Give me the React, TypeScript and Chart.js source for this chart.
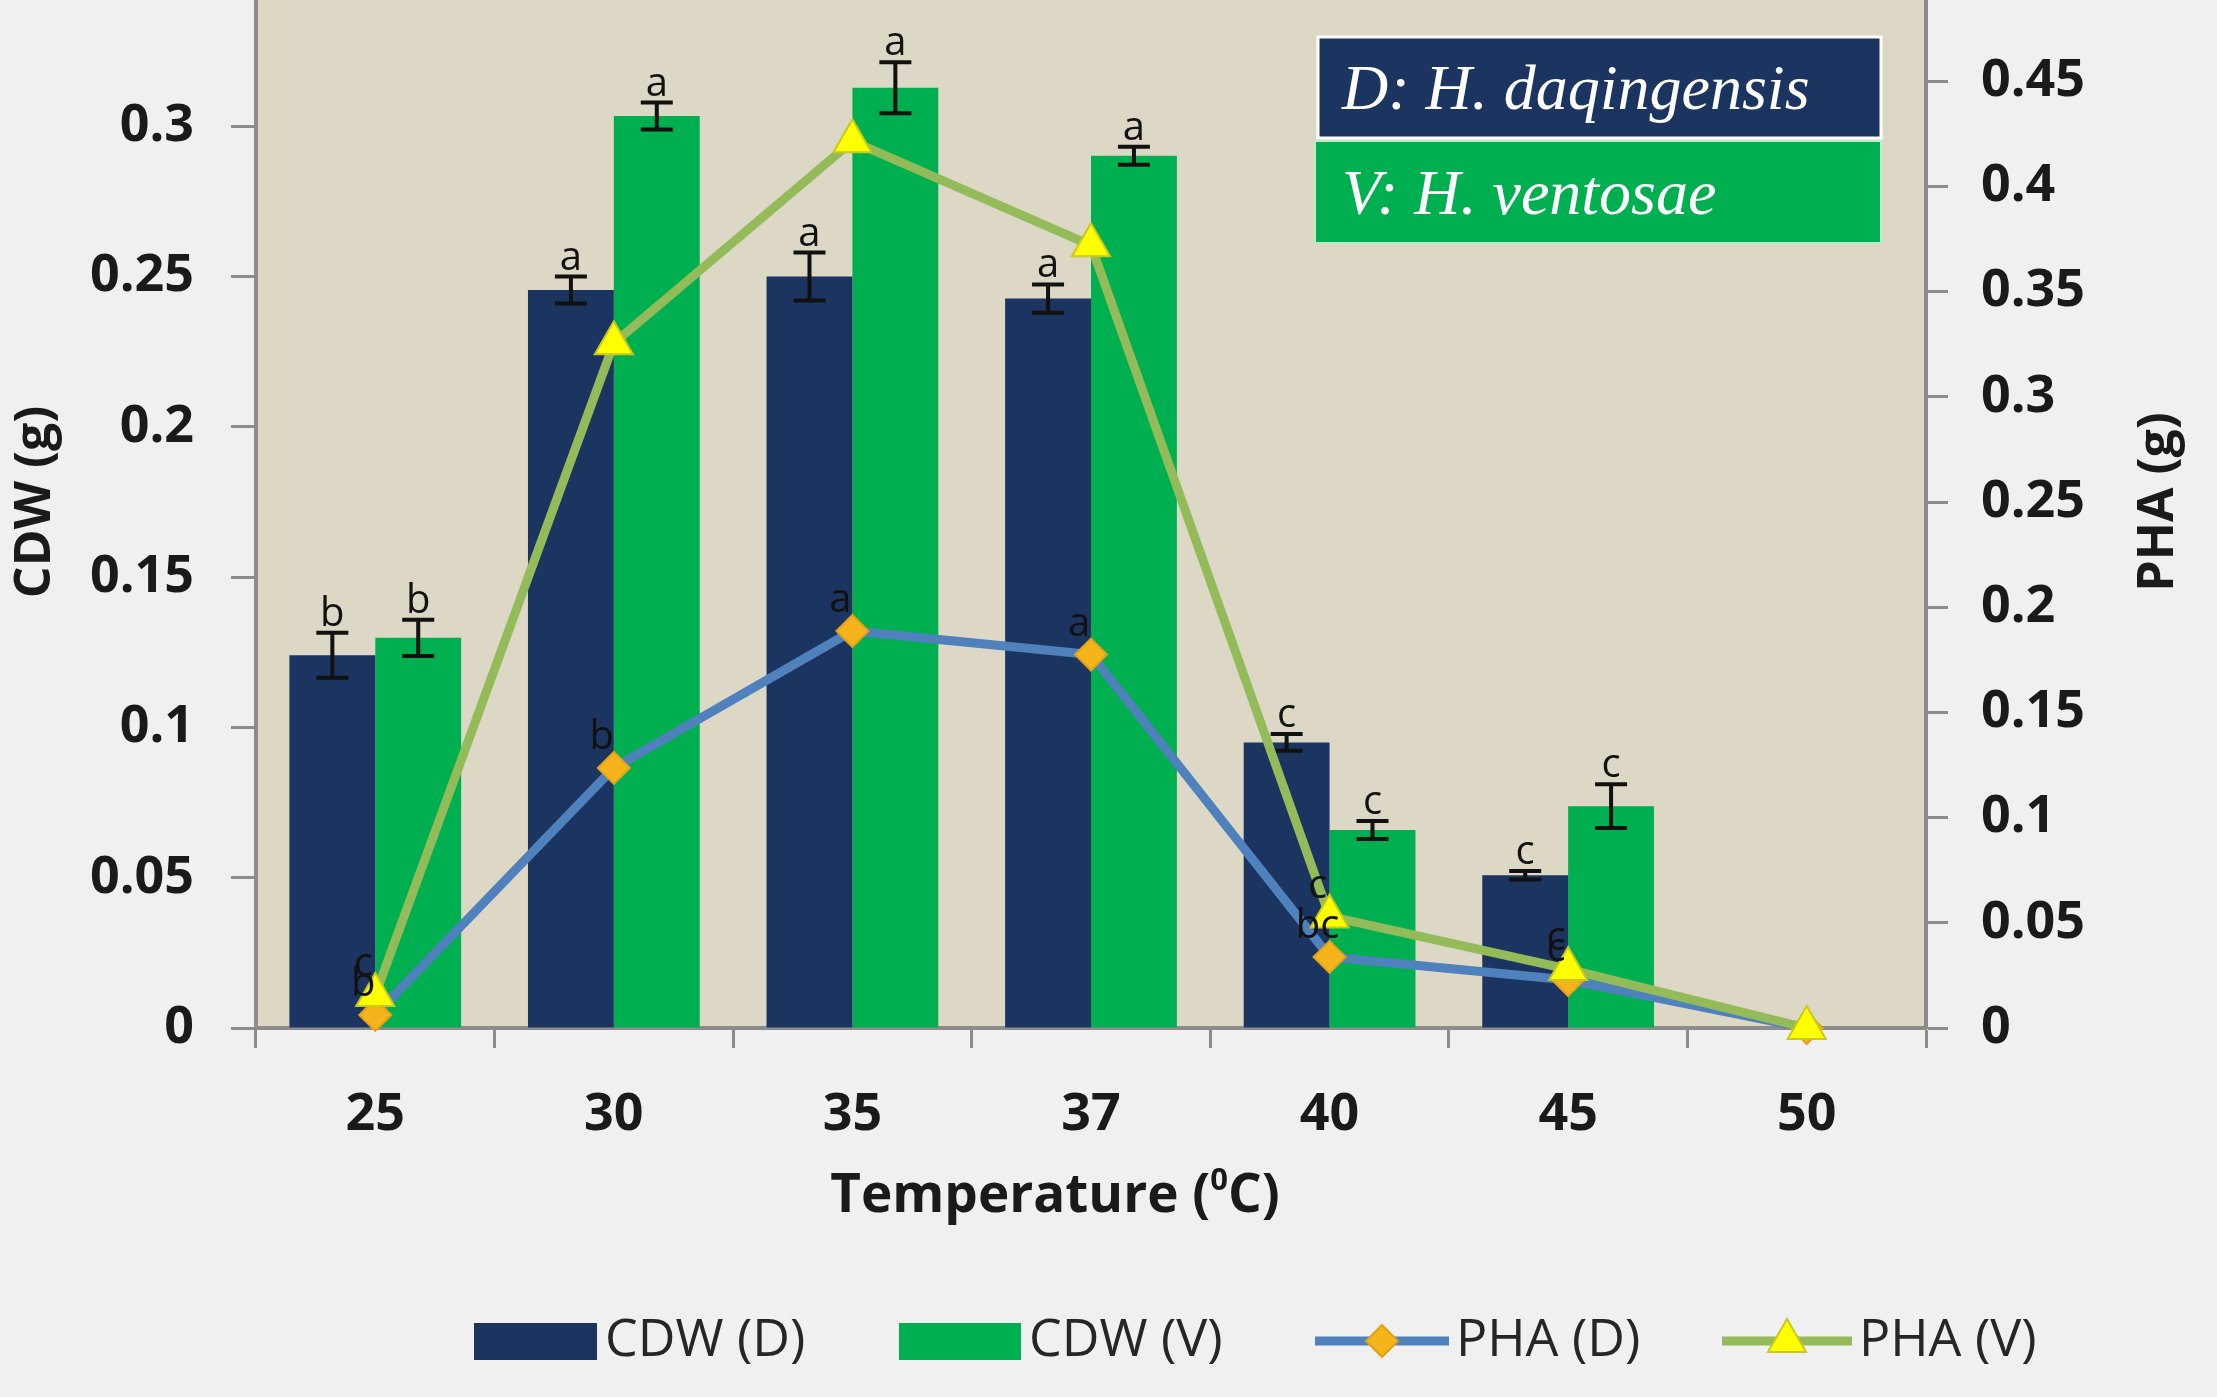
import React, { useEffect, useRef } from "react";
import { Chart, registerables } from "chart.js";

Chart.register(...registerables);

// ---------- data ----------
const temperatures = ["25", "30", "35", "37", "40", "45", "50"];
const cdwD = [0.124, 0.2455, 0.25, 0.2427, 0.095, 0.0508, 0];
const cdwV = [0.1298, 0.3034, 0.3128, 0.2902, 0.0659, 0.0738, 0];
const cdwDErr = [0.0075, 0.0045, 0.008, 0.0047, 0.0028, 0.0014, 0];
const cdwVErr = [0.006, 0.0045, 0.0085, 0.003, 0.003, 0.0073, 0];
const phaD = [0.0062, 0.1236, 0.1887, 0.1775, 0.0338, 0.0228, 0];
const phaV = [0.0157, 0.3255, 0.4215, 0.372, 0.053, 0.028, 0];
const cdwDLetters = ["b", "a", "a", "a", "c", "c", ""];
const cdwVLetters = ["b", "a", "a", "a", "c", "c", ""];
const phaDLetters = ["b", "b", "a", "a", "bc", "c", ""];
const phaVLetters = ["c", "", "", "", "c", "c", ""];
const cdwAxis = { min: 0, max: 0.35, step: 0.05 };
const phaAxis = { min: 0, max: 0.5, step: 0.05 };
const seriesNames = ["CDW (D)", "CDW (V)", "PHA (D)", "PHA (V)"];
const strainNames = ["D: H. daqingensis", "V: H. ventosae"];

// ---------- style ----------
const W = 2217;
const H = 1397;
const SHIFT = 124; // canvas extends above the page (top of plot is cropped)
const NAVY = "#1c3560";
const GREEN = "#00b050";
const BLUE_LINE = "#4f81bd";
const OLIVE_LINE = "#93bb5a";
const DIAMOND = "#f6b41c";
const TRIANGLE = "#ffff00";
const AXIS = "#8c8c8c";
const TEXT = "#1a1a1a";
const FONT = '"Open Sans", "Noto Sans", sans-serif';
const LINE_W = 9;

const fmt = (v: any) => String(Math.round(Number(v) * 100) / 100);

function diamondPath(ctx: CanvasRenderingContext2D, x: number, y: number, r: number) {
  ctx.beginPath();
  ctx.moveTo(x, y - r);
  ctx.lineTo(x + r, y);
  ctx.lineTo(x, y + r);
  ctx.lineTo(x - r, y);
  ctx.closePath();
}
function trianglePath(ctx: CanvasRenderingContext2D, x: number, y: number, r: number) {
  ctx.beginPath();
  ctx.moveTo(x, y - r);
  ctx.lineTo(x + r * 0.866, y + r * 0.5);
  ctx.lineTo(x - r * 0.866, y + r * 0.5);
  ctx.closePath();
}

const backgroundPlugin = {
  id: "bgPlot",
  beforeDraw(chart: any) {
    const { ctx, chartArea: a } = chart;
    ctx.save();
    ctx.fillStyle = "#f0f0f0";
    ctx.fillRect(0, 0, chart.width, chart.height);
    ctx.fillStyle = "#ddd8c6";
    ctx.fillRect(a.left, a.top, a.right - a.left, a.bottom - a.top);
    ctx.restore();
  },
};

const errorBarPlugin = {
  id: "errorBars",
  afterDatasetDraw(chart: any, args: any) {
    const errs = args.index === 0 ? cdwDErr : args.index === 1 ? cdwVErr : null;
    if (!errs) return;
    const vals = args.index === 0 ? cdwD : cdwV;
    const y = chart.scales.y;
    const ctx = chart.ctx;
    ctx.save();
    ctx.strokeStyle = "#111111";
    ctx.lineWidth = 4;
    args.meta.data.forEach((bar: any, i: number) => {
      if (!errs[i]) return;
      const top = y.getPixelForValue(vals[i] + errs[i]);
      const bot = y.getPixelForValue(vals[i] - errs[i]);
      const x = bar.x;
      ctx.beginPath();
      ctx.moveTo(x, top);
      ctx.lineTo(x, bot);
      ctx.moveTo(x - 16, top);
      ctx.lineTo(x + 16, top);
      ctx.moveTo(x - 16, bot);
      ctx.lineTo(x + 16, bot);
      ctx.stroke();
    });
    ctx.restore();
  },
};

const lettersPlugin = {
  id: "letters",
  afterDatasetsDraw(chart: any) {
    const ctx = chart.ctx;
    const y = chart.scales.y;
    ctx.save();
    ctx.fillStyle = "#111111";
    ctx.font = `40px ${FONT}`;
    ctx.textAlign = "center";
    ctx.textBaseline = "alphabetic";
    [
      { idx: 0, letters: cdwDLetters, vals: cdwD, errs: cdwDErr },
      { idx: 1, letters: cdwVLetters, vals: cdwV, errs: cdwVErr },
    ].forEach((s) => {
      const meta = chart.getDatasetMeta(s.idx);
      meta.data.forEach((bar: any, i: number) => {
        if (!s.letters[i]) return;
        const top = y.getPixelForValue(s.vals[i] + s.errs[i]);
        ctx.fillText(s.letters[i], bar.x, top - 7);
      });
    });
    ctx.textBaseline = "middle";
    [
      { idx: 2, letters: phaDLetters },
      { idx: 3, letters: phaVLetters },
    ].forEach((s) => {
      const meta = chart.getDatasetMeta(s.idx);
      meta.data.forEach((pt: any, i: number) => {
        if (!s.letters[i]) return;
        ctx.fillText(s.letters[i], pt.x - 12, pt.y - 30);
      });
    });
    ctx.restore();
  },
};

const decorPlugin = {
  id: "decor",
  afterDraw(chart: any) {
    const { ctx, chartArea: a } = chart;
    const cy = (a.top + a.bottom) / 2;
    ctx.save();

    // axis titles
    ctx.fillStyle = TEXT;
    ctx.font = `bold 50px ${FONT}`;
    ctx.textAlign = "center";
    ctx.textBaseline = "middle";
    ctx.save();
    ctx.translate(36, cy);
    ctx.rotate(-Math.PI / 2);
    ctx.fillText("CDW (g)", 0, 0);
    ctx.restore();
    ctx.save();
    ctx.translate(2159, cy);
    ctx.rotate(-Math.PI / 2);
    ctx.fillText("PHA (g)", 0, 0);
    ctx.restore();

    // x title with superscript
    const t1 = "Temperature (";
    const t2 = "0";
    const t3 = "C)";
    const mainFont = `bold 53px ${FONT}`;
    const supFont = `bold 31px ${FONT}`;
    ctx.font = mainFont;
    const w1 = ctx.measureText(t1).width;
    const w3 = ctx.measureText(t3).width;
    ctx.font = supFont;
    const w2 = ctx.measureText(t2).width;
    const total = w1 + w2 + w3;
    const xc = (a.left + a.right) / 2 - 36;
    const base = a.bottom + 184;
    let x = xc - total / 2;
    ctx.textAlign = "left";
    ctx.textBaseline = "alphabetic";
    ctx.font = mainFont;
    ctx.fillText(t1, x, base);
    x += w1;
    ctx.font = supFont;
    ctx.fillText(t2, x, base - 22);
    x += w2;
    ctx.font = mainFont;
    ctx.fillText(t3, x, base);

    // in-plot strain legend
    const bx = a.right - 608;
    const bw = 563;
    const by1 = a.top + 61;
    const bh = 101;
    ctx.fillStyle = NAVY;
    ctx.fillRect(bx, by1, bw, bh);
    ctx.strokeStyle = "#ffffff";
    ctx.lineWidth = 3;
    ctx.strokeRect(bx, by1, bw, bh);
    const by2 = by1 + bh + 3;
    ctx.fillStyle = GREEN;
    ctx.fillRect(bx - 3, by2, bw + 3, bh + 1);
    ctx.strokeStyle = "#b9efc8";
    ctx.lineWidth = 2;
    ctx.strokeRect(bx - 3, by2, bw + 3, bh + 1);
    ctx.fillStyle = "#ffffff";
    ctx.font = `italic 64px "Liberation Serif", "DejaVu Serif", serif`;
    ctx.textAlign = "left";
    ctx.textBaseline = "alphabetic";
    ctx.fillText(strainNames[0], bx + 24, by1 + 72);
    ctx.fillText(strainNames[1], bx + 24, by2 + 73);

    // bottom legend
    const ly = a.bottom + 313;
    ctx.font = `52px ${FONT}`;
    ctx.textBaseline = "middle";
    ctx.fillStyle = NAVY;
    ctx.fillRect(474, ly - 18, 123, 37);
    ctx.fillStyle = "#262626";
    ctx.fillText(seriesNames[0], 605, ly);
    ctx.fillStyle = GREEN;
    ctx.fillRect(899, ly - 18, 122, 37);
    ctx.fillStyle = "#262626";
    ctx.fillText(seriesNames[1], 1029, ly);

    ctx.strokeStyle = BLUE_LINE;
    ctx.lineWidth = LINE_W;
    ctx.beginPath();
    ctx.moveTo(1315, ly);
    ctx.lineTo(1449, ly);
    ctx.stroke();
    diamondPath(ctx, 1382, ly, 16);
    ctx.fillStyle = DIAMOND;
    ctx.fill();
    ctx.strokeStyle = "#e0a21a";
    ctx.lineWidth = 2;
    ctx.stroke();
    ctx.fillStyle = "#262626";
    ctx.fillText(seriesNames[2], 1456, ly);

    ctx.strokeStyle = OLIVE_LINE;
    ctx.lineWidth = LINE_W;
    ctx.beginPath();
    ctx.moveTo(1722, ly);
    ctx.lineTo(1852, ly);
    ctx.stroke();
    trianglePath(ctx, 1787, ly, 22);
    ctx.fillStyle = TRIANGLE;
    ctx.fill();
    ctx.strokeStyle = "#c8c820";
    ctx.lineWidth = 2;
    ctx.stroke();
    ctx.fillStyle = "#262626";
    ctx.fillText(seriesNames[3], 1859, ly);

    ctx.restore();
  },
};

export default function App() {
  const ref = useRef<HTMLCanvasElement | null>(null);

  useEffect(() => {
    if (!ref.current) return;
    const tickFont = { family: FONT, size: 52, weight: "bold" as const };
    const chart = new Chart(ref.current, {
      type: "bar",
      data: {
        labels: temperatures,
        datasets: [
          {
            type: "bar",
            label: seriesNames[0],
            data: cdwD,
            backgroundColor: NAVY,
            yAxisID: "y",
            order: 3,
            categoryPercentage: 0.72,
            barPercentage: 1.0,
          },
          {
            type: "bar",
            label: seriesNames[1],
            data: cdwV,
            backgroundColor: GREEN,
            yAxisID: "y",
            order: 4,
            categoryPercentage: 0.72,
            barPercentage: 1.0,
          },
          {
            type: "line",
            label: seriesNames[2],
            data: phaD,
            borderColor: BLUE_LINE,
            borderWidth: LINE_W,
            pointStyle: "rectRot",
            pointRadius: 16,
            pointBackgroundColor: DIAMOND,
            pointBorderColor: "#e0a21a",
            pointBorderWidth: 2,
            tension: 0,
            yAxisID: "y1",
            order: 2,
            clip: false,
          } as any,
          {
            type: "line",
            label: seriesNames[3],
            data: phaV,
            borderColor: OLIVE_LINE,
            borderWidth: LINE_W,
            pointStyle: "triangle",
            pointRadius: 22,
            pointBackgroundColor: TRIANGLE,
            pointBorderColor: "#c8c820",
            pointBorderWidth: 2,
            tension: 0,
            yAxisID: "y1",
            order: 1,
            clip: false,
          } as any,
        ],
      },
      options: {
        responsive: false,
        maintainAspectRatio: false,
        animation: false,
        devicePixelRatio: 1,
        layout: { padding: { top: SHIFT - 24, left: 0, right: 0, bottom: 0 } },
        plugins: {
          legend: { display: false },
          tooltip: { enabled: false },
          title: { display: false },
        },
        scales: {
          x: {
            type: "category",
            offset: true,
            grid: {
              display: true,
              drawOnChartArea: false,
              offset: true,
              tickLength: 20,
              tickColor: AXIS,
              tickWidth: 3,
            },
            border: { display: true, color: AXIS, width: 4 },
            ticks: { color: TEXT, font: tickFont, padding: 36, maxRotation: 0, autoSkip: false },
            afterFit(scale: any) {
              scale.height = H + SHIFT - (1028 + SHIFT);
            },
          },
          y: {
            type: "linear",
            position: "left",
            min: cdwAxis.min,
            max: cdwAxis.max,
            ticks: {
              stepSize: cdwAxis.step,
              color: TEXT,
              font: tickFont,
              padding: 37,
              callback: fmt,
            },
            grid: {
              drawOnChartArea: false,
              tickLength: 25,
              tickColor: AXIS,
              tickWidth: 3,
            },
            border: { display: true, color: AXIS, width: 4 },
            afterFit(scale: any) {
              scale.width = 256;
            },
          },
          y1: {
            type: "linear",
            position: "right",
            min: phaAxis.min,
            max: phaAxis.max,
            ticks: {
              stepSize: phaAxis.step,
              color: TEXT,
              font: tickFont,
              padding: 33,
              callback: fmt,
            },
            grid: {
              drawOnChartArea: false,
              tickLength: 22,
              tickColor: AXIS,
              tickWidth: 3,
            },
            border: { display: true, color: AXIS, width: 4 },
            afterFit(scale: any) {
              scale.width = W - 1926;
            },
          },
        },
      } as any,
      plugins: [backgroundPlugin, errorBarPlugin, lettersPlugin, decorPlugin],
    });
    return () => chart.destroy();
  }, []);

  return (
    <div
      style={{
        position: "fixed",
        left: 0,
        top: 0,
        width: W,
        height: H,
        overflow: "hidden",
        background: "#f0f0f0",
      }}
    >
      <canvas
        ref={ref}
        width={W}
        height={H + SHIFT}
        style={{ position: "absolute", left: 0, top: -SHIFT, width: W, height: H + SHIFT, display: "block" }}
      />
    </div>
  );
}
